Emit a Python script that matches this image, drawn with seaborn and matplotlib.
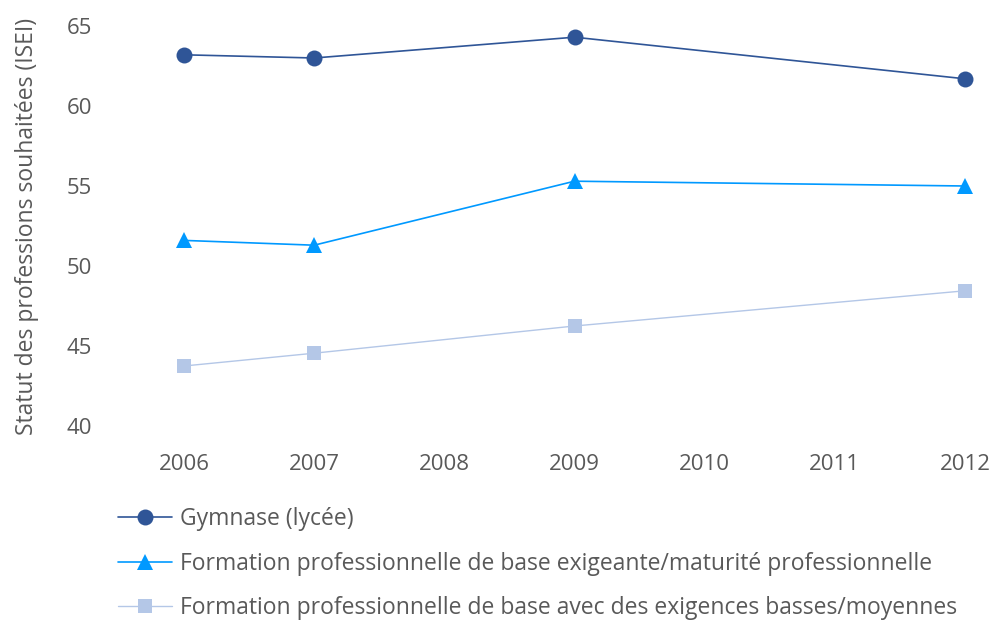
import matplotlib
matplotlib.use("Agg")
import matplotlib.pyplot as plt
import seaborn as sns
import pandas as pd

years = [2006, 2007, 2009, 2012]
gymnase = [63.2, 63.0, 64.3, 61.7]
exigeante = [51.6, 51.3, 55.3, 55.0]
basses = [43.75, 44.55, 46.25, 48.45]
series_names = [
    "Gymnase (lycée)",
    "Formation professionnelle de base exigeante/maturité professionnelle",
    "Formation professionnelle de base avec des exigences basses/moyennes",
]
x_ticks = [2006, 2007, 2008, 2009, 2010, 2011, 2012]
y_ticks = [40, 45, 50, 55, 60, 65]
y_label = "Statut des professions souhaitées (ISEI)"

sns.set_theme(style="white")
plt.rcParams['font.family'] = ['Open Sans', 'DejaVu Sans']

fig = plt.figure(figsize=(9.92, 6.22), dpi=100)
# x: 2006 at px 184, 2012 at px 965 ; y: 40 at px 426, 65 at px 26
ppy = (965 - 184) / 6.0
x0, x1 = 2005.36, 2012.19
left_px = 184 - (2006 - x0) * ppy
right_px = 965 + (x1 - 2012) * ppy
ax = fig.add_axes([left_px / 992, (622 - 426) / 622, (right_px - left_px) / 992, 400 / 622])

colors = ["#2F5597", "#0099FF", "#B4C7E7"]
markers = ["o", "^", "s"]
msizes = [11.5, 12, 10.5]
lws = [1.2, 1.2, 1.0]
for vals, name, c, m, ms, lw in zip([gymnase, exigeante, basses], series_names, colors, markers, msizes, lws):
    df = pd.DataFrame({"year": years, "value": vals})
    sns.lineplot(data=df, x="year", y="value", ax=ax, color=c, marker=m,
                 markersize=ms, linewidth=lw, markeredgewidth=0, label=name,
                 clip_on=False, legend=False)

ax.set_xlim(x0, x1)
ax.set_ylim(40, 65)
ax.set_xticks(x_ticks)
ax.set_yticks(y_ticks)
for s in ax.spines.values():
    s.set_visible(False)
ax.grid(False)
tc = "#595959"
ax.tick_params(axis="both", length=0, labelsize=16, colors=tc)
ax.tick_params(axis="x", pad=20)
ax.tick_params(axis="y", pad=6)
ax.set_xlabel("")
ax.set_ylabel(y_label, fontsize=16.5, color=tc, labelpad=20)

handles, labels = ax.get_legend_handles_labels()
leg = fig.legend(handles, labels, loc="upper left", bbox_to_anchor=(109 / 992, 1 - 498 / 622),
                 frameon=False, fontsize=16.5, labelspacing=0.9, handlelength=2.36,
                 handletextpad=0.35, borderaxespad=0)
for t in leg.get_texts():
    t.set_color(tc)

fig.savefig("out.png", dpi=100)
